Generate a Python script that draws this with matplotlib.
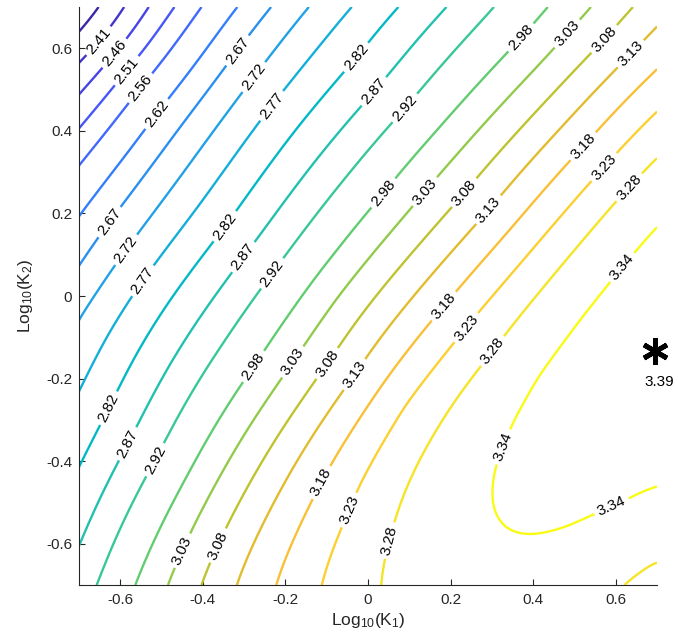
import numpy as np
import matplotlib
matplotlib.use("Agg")
import matplotlib.pyplot as plt
from matplotlib.colors import LinearSegmentedColormap, Normalize

plt.rcParams["font.family"] = ["Liberation Sans", "DejaVu Sans"]
plt.rcParams["mathtext.default"] = "regular"
plt.rcParams["axes.unicode_minus"] = False

# contour levels as labelled on the chart
levels = [2.36, 2.41, 2.46, 2.51, 2.56, 2.62, 2.67, 2.72, 2.77, 2.82,
          2.87, 2.92, 2.98, 3.03, 3.08, 3.13, 3.18, 3.23, 3.28, 3.34]

# where each contour meets the frame
left_y = [0.634, 0.567, 0.488, 0.406, 0.317, 0.196, 0.070, -0.051, -0.229, -0.412, -0.608]
left_lv = [2.36, 2.41, 2.46, 2.51, 2.56, 2.62, 2.67, 2.72, 2.77, 2.82, 2.87]

top_x = [-0.646, -0.590, -0.533, -0.469, -0.404, -0.318, -0.235, -0.146,
         -0.042, 0.072, 0.190, 0.305, 0.435, 0.540, 0.642]
top_lv = [2.36, 2.41, 2.46, 2.51, 2.56, 2.62, 2.67, 2.72,
          2.77, 2.82, 2.87, 2.92, 2.98, 3.03, 3.08]

right_y = [0.652, 0.551, 0.450, 0.337, 0.171, -0.455, -0.641]
right_lv = [3.13, 3.18, 3.23, 3.28, 3.34, 3.34, 3.28]

bottom_x = [-0.654, -0.566, -0.485, -0.404, -0.320, -0.223, -0.114, 0.029, 0.619]
bottom_lv = [2.92, 2.98, 3.03, 3.08, 3.13, 3.18, 3.23, 3.28, 3.28]

# points along the contours inside the frame
inner_x = [0.615, 0.511, 0.410, 0.353, 0.305, 0.301, 0.329, 0.402, 0.490, 0.595, 0.635,
           0.632, 0.361, 0.305, 0.272, 0.168, 0.087, 0.051, 0.660,
           0.571, 0.272, 0.212, 0.087, -0.026, -0.042,
           0.523, 0.224, 0.156, -0.074, -0.114,
           0.599, 0.329, 0.293, -0.030,
           0.575, 0.268, 0.236, -0.026, -0.098, -0.364,
           0.482, 0.168, 0.139, -0.074, -0.182, -0.449,
           0.373, 0.071, 0.039, -0.074, -0.275,
           0.091, -0.231, -0.513,
           0.015, -0.303, -0.582,
           -0.026, -0.344, -0.626,
           -0.235, -0.547,
           -0.275, -0.586,
           -0.318, -0.626,
           -0.513, -0.553, -0.586, -0.614, -0.650]
inner_y = [0.070, -0.059, -0.188, -0.301, -0.423, -0.503, -0.560, -0.580, -0.564, -0.520, -0.499,
           0.264, -0.059, -0.136, -0.172, -0.326, -0.479, -0.592, -0.670,
           0.313, -0.031, -0.107, -0.261, -0.463, -0.520,
           0.361, 0.022, -0.059, -0.382, -0.451,
           0.547, 0.252, 0.208, -0.192,
           0.620, 0.293, 0.248, -0.059, -0.164, -0.604,
           0.636, 0.293, 0.252, -0.002, -0.160, -0.617,
           0.624, 0.293, 0.248, 0.111, -0.172,
           0.454, 0.054, -0.398,
           0.495, 0.095, -0.358,
           0.576, 0.167, -0.273,
           0.462, 0.038,
           0.529, 0.112,
           0.596, 0.179,
           0.442, 0.505, 0.547, 0.588, 0.616]
inner_lv = [3.34] * 11 + [3.28] * 8 + [3.23] * 6 + [3.18] * 5 + [3.13] * 4 + \
           [3.08] * 6 + [3.03] * 6 + [2.98] * 5 + [2.92] * 3 + [2.87] * 3 + \
           [2.82] * 3 + [2.77] * 2 + [2.72] * 2 + [2.67] * 2 + \
           [2.62, 2.56, 2.51, 2.46, 2.41]

# maximum (asterisk)
best_x = 0.695
best_y = -0.133
best_val = 3.39

# where the labels sit on the lines
label_pos = [(-0.650, 0.616), (-0.614, 0.588), (-0.586, 0.547), (-0.553, 0.505), (-0.513, 0.442),
             (-0.318, 0.596), (-0.275, 0.529), (-0.235, 0.462),
             (-0.626, 0.179), (-0.586, 0.112), (-0.547, 0.038),
             (-0.344, 0.167), (-0.303, 0.095), (-0.231, 0.054),
             (-0.026, 0.576), (0.015, 0.495), (0.091, 0.454),
             (0.373, 0.624), (0.482, 0.636), (0.575, 0.620), (0.635, 0.588),
             (0.039, 0.248), (0.139, 0.252), (0.236, 0.248), (0.293, 0.208),
             (0.523, 0.361), (0.571, 0.313), (0.632, 0.264), (0.615, 0.070),
             (-0.626, -0.273), (-0.582, -0.358), (-0.513, -0.398),
             (-0.275, -0.172), (-0.182, -0.160), (-0.098, -0.164),
             (-0.449, -0.617), (-0.364, -0.604), (-0.114, -0.451),
             (-0.030, -0.192), (0.19, -0.03), (0.236, -0.075), (0.305, -0.136),
             (0.329, -0.366), (0.595, -0.520), (-0.042, -0.520), (0.051, -0.592)]

# parula (R2014 version), every third entry of the 64-colour table
parula = [(0.2422, 0.1504, 0.6603), (0.2647, 0.1978, 0.7952), (0.2783, 0.2559, 0.8991),
          (0.2810, 0.3228, 0.9579), (0.2699, 0.3892, 0.9906), (0.2206, 0.4603, 0.9973),
          (0.1786, 0.5289, 0.9682), (0.1540, 0.5902, 0.9218), (0.1248, 0.6459, 0.8883),
          (0.0689, 0.6948, 0.8394), (0.0067, 0.7312, 0.7660), (0.1408, 0.7584, 0.6842),
          (0.2161, 0.7843, 0.5923), (0.3406, 0.8008, 0.4789), (0.5044, 0.7993, 0.3480),
          (0.6720, 0.7793, 0.2227), (0.8203, 0.7498, 0.1535), (0.9393, 0.7288, 0.2100),
          (0.9970, 0.7659, 0.2199), (0.9786, 0.8386, 0.1766), (0.9597, 0.9135, 0.1423),
          (0.9769, 0.9839, 0.0805)]
cmap = LinearSegmentedColormap.from_list("parula", parula)

# smooth surface through the traced points (thin-plate spline with smoothing)
xs = np.array([-0.7] * len(left_y) + top_x + [0.7] * len(right_y) + bottom_x + inner_x + [best_x])
ys = np.array(left_y + [0.7] * len(top_x) + right_y + [-0.7] * len(bottom_x) + inner_y + [best_y])
zs = np.array(left_lv + top_lv + right_lv + bottom_lv + inner_lv + [best_val])


def kern(r):
    with np.errstate(divide="ignore", invalid="ignore"):
        v = r ** 2 * np.log(r)
    return np.nan_to_num(v)


n = len(xs)
# lighter smoothing in the bottom-right corner and at the maximum
lam = np.where((xs > 0.55) & (ys < -0.6), 0.002, 0.02)
lam[-1] = 0.005
K = kern(np.hypot(xs[:, None] - xs[None, :], ys[:, None] - ys[None, :])) + np.diag(lam)
P = np.column_stack([np.ones(n), xs, ys])
A = np.block([[K, P], [P.T, np.zeros((3, 3))]])
sol = np.linalg.solve(A, np.concatenate([zs, np.zeros(3)]))
w, a = sol[:n], sol[n:]

g = np.linspace(-0.7, 0.7, 241)
X, Y = np.meshgrid(g, g)
Z = np.empty_like(X)
for i in range(len(g)):
    r = np.hypot(X[i][:, None] - xs[None, :], Y[i][:, None] - ys[None, :])
    Z[i] = kern(r) @ w + a[0] + a[1] * X[i] + a[2] * Y[i]

fig = plt.figure(figsize=(6.78, 6.43), dpi=100)
ax = fig.add_axes([79 / 678, 1 - 585 / 643, 578 / 678, 578 / 643])

cs = ax.contour(X, Y, Z, levels=levels, cmap=cmap,
                norm=Normalize(levels[0], levels[-1]), linewidths=1.7)
ax.clabel(cs, fmt="%.2f", manual=label_pos, inline=True, inline_spacing=4,
          fontsize=11, colors="k")

ax.plot(best_x, best_y, marker=(6, 2, 0), ms=19, mew=3.5, color="k", clip_on=False)
ax.text(best_x + 0.01, best_y - 0.075, f"{best_val:.2f}", ha="center", va="center",
        fontsize=11, clip_on=False)

ax.set_xlim(-0.7, 0.7)
ax.set_ylim(-0.7, 0.7)
ax.set_xticks([-0.6, -0.4, -0.2, 0, 0.2, 0.4, 0.6])
ax.set_yticks([-0.6, -0.4, -0.2, 0, 0.2, 0.4, 0.6])
ax.set_xticklabels(["-0.6", "-0.4", "-0.2", "0", "0.2", "0.4", "0.6"])
ax.set_yticklabels(["-0.6", "-0.4", "-0.2", "0", "0.2", "0.4", "0.6"])
ax.tick_params(direction="in", length=4.5, width=0.8, colors="#262626", labelsize=11)
ax.tick_params(axis="x", pad=6)
ax.tick_params(axis="y", pad=5)
for s in ["top", "right"]:
    ax.spines[s].set_visible(False)
for s in ["left", "bottom"]:
    ax.spines[s].set_color("#262626")
    ax.spines[s].set_linewidth(0.8)

ax.set_xlabel("Log$_{10}$(K$_1$)", fontsize=12.5, color="#262626", labelpad=3)
ax.set_ylabel("Log$_{10}$(K$_2$)", fontsize=12.5, color="#262626", labelpad=8)

fig.savefig("out.png", dpi=100)
